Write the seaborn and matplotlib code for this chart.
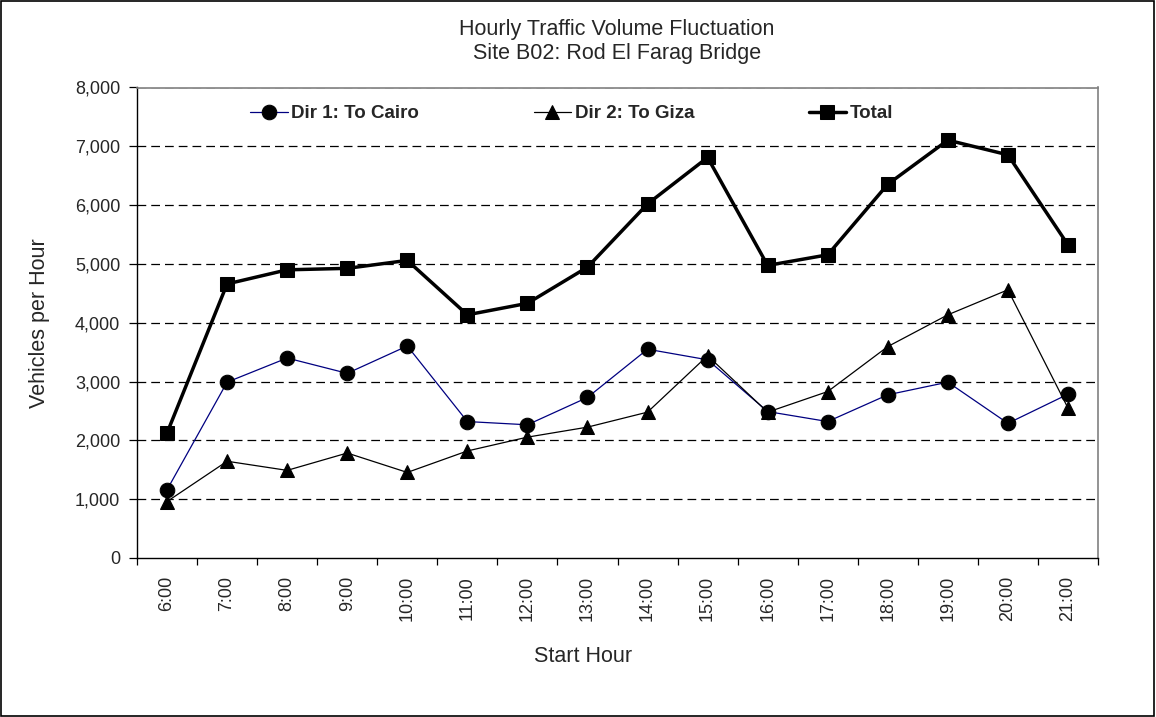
import seaborn as sns
import pandas as pd
import matplotlib.pyplot as plt
import numpy as np
from matplotlib.patches import Rectangle
from matplotlib.ticker import FuncFormatter, FixedLocator

hours = ["6:00", "7:00", "8:00", "9:00", "10:00", "11:00", "12:00", "13:00",
         "14:00", "15:00", "16:00", "17:00", "18:00", "19:00", "20:00", "21:00"]
dir1 = [1160, 2990, 3400, 3140, 3605, 2320, 2265, 2730,
        3550, 3370, 2490, 2320, 2775, 2990, 2290, 2785]
dir2 = [960, 1645, 1490, 1785, 1455, 1820, 2055, 2225,
        2480, 3440, 2480, 2830, 3595, 4135, 4560, 2550]
total = [2125, 4660, 4900, 4925, 5060, 4135, 4330, 4945,
         6020, 6810, 4975, 5155, 6355, 7105, 6855, 5325]

sns.set_style("white")
plt.rcParams['font.family'] = ['Liberation Sans', 'DejaVu Sans']

df = pd.DataFrame({"hour": hours, "Dir 1: To Cairo": dir1,
                   "Dir 2: To Giza": dir2, "Total": total})
df["pos"] = np.arange(len(hours))

fig = plt.figure(figsize=(11.56, 7.17), dpi=100)
ax = fig.add_axes([137/1156, 1 - 558/717, 961/1156, 470.5/717])

ax.set_ylim(0, 8000)
ax.set_xlim(-0.5, len(hours) - 0.5)
for v in range(1000, 8001, 1000):
    ax.axhline(v, color="black", lw=0.9, ls=(0, (7, 4)), zorder=0)

sns.lineplot(data=df, x="pos", y="Dir 1: To Cairo", ax=ax, color="#000080",
             lw=0.9, marker="o", markersize=10.5, markerfacecolor="black",
             markeredgecolor="black", label="Dir 1: To Cairo")
sns.lineplot(data=df, x="pos", y="Dir 2: To Giza", ax=ax, color="black",
             lw=0.9, marker="^", markersize=10.5, markerfacecolor="black",
             markeredgecolor="black", label="Dir 2: To Giza")
sns.lineplot(data=df, x="pos", y="Total", ax=ax, color="black",
             lw=2.5, marker="s", markersize=9.5, markerfacecolor="black",
             markeredgecolor="black", label="Total")

ax.set_xticks(df["pos"])
ax.set_xticklabels(hours, rotation=90, fontsize=13)
ax.xaxis.set_minor_locator(FixedLocator(np.arange(-0.5, len(hours), 1.0)))
ax.tick_params(axis="x", which="major", length=0, pad=13)
ax.tick_params(axis="x", which="minor", length=5, width=0.9, direction="out",
               color="black", bottom=True)
ax.set_yticks(range(0, 8001, 1000))
ax.yaxis.set_major_formatter(FuncFormatter(lambda v, p: f"{int(v):,}"))
ax.tick_params(axis="y", length=6, width=0.9, direction="out", color="black",
               left=True, labelsize=13, pad=6)

for s in ["left", "bottom"]:
    ax.spines[s].set_color("black")
    ax.spines[s].set_linewidth(1.0)
for s in ["top", "right"]:
    ax.spines[s].set_color("#808080")
    ax.spines[s].set_linewidth(1.2)

ax.set_xlabel("Start Hour", fontsize=15.5)
ax.xaxis.set_label_coords((583 - 137) / 961, (558 - 646) / 470.5)
ax.set_ylabel("Vehicles per Hour", fontsize=15.5)
ax.yaxis.set_label_coords((50 - 137) / 961, 0.5)

leg = ax.legend(loc="upper left", bbox_to_anchor=((250 - 137) / 961, (558 - 105) / 470.5),
                ncol=3, frameon=False, columnspacing=6.1, handlelength=2.0,
                handletextpad=0.2, borderpad=0, borderaxespad=0,
                prop={"weight": "bold", "size": 13.5})

fig.text(617/1156, 1 - 29/717, "Hourly Traffic Volume Fluctuation",
         ha="center", va="center", fontsize=15.5)
fig.text(617/1156, 1 - 53/717, "Site B02: Rod El Farag Bridge",
         ha="center", va="center", fontsize=15.5)

fig.patches.append(Rectangle((0.001, 0.001), 0.997, 0.997, fill=False,
                             edgecolor="black", lw=1.2,
                             transform=fig.transFigure, figure=fig))

fig.savefig("out.png", dpi=100)
